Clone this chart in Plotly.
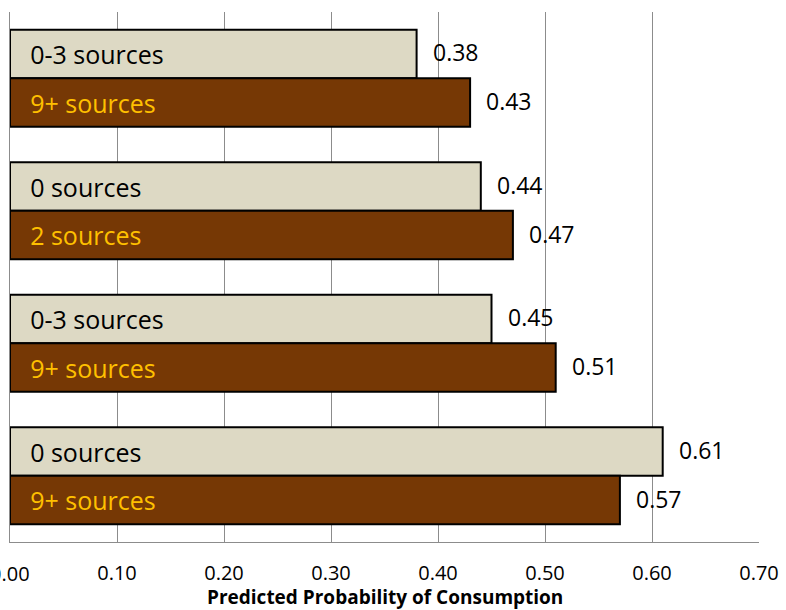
import plotly.graph_objects as go

groups = ["g1", "g2", "g3", "g4"]
light_labels = ["0-3 sources", "0 sources", "0-3 sources", "0 sources"]
light_values = [0.38, 0.44, 0.45, 0.61]
dark_labels = ["9+ sources", "2 sources", "9+ sources", "9+ sources"]
dark_values = [0.43, 0.47, 0.51, 0.57]
x_ticks = [0.0, 0.1, 0.2, 0.3, 0.4, 0.5, 0.6, 0.7]
x_title = "Predicted Probability of Consumption"

FONT = "Open Sans"
LIGHT = "#DDD9C4"
DARK = "#763805"

fig = go.Figure()
fig.add_trace(go.Bar(
    y=groups, x=light_values, orientation="h",
    marker=dict(color=LIGHT, line=dict(color="#000000", width=2)),
    text=light_labels, textposition="inside", insidetextanchor="start",
    textfont=dict(family=FONT, size=25, color="#000000"),
    texttemplate="  \u2009%{text}", hoverinfo="skip", showlegend=False,
))
fig.add_trace(go.Bar(
    y=groups, x=dark_values, orientation="h",
    marker=dict(color=DARK, line=dict(color="#000000", width=2)),
    text=dark_labels, textposition="inside", insidetextanchor="start",
    textfont=dict(family=FONT, size=25, color="#FFC000"),
    texttemplate="  \u2009%{text}", hoverinfo="skip", showlegend=False,
))

annotations = []
for g, v in zip(groups, light_values):
    annotations.append(dict(x=v, y=g, xref="x", yref="y", text=f"{v:.2f}",
                            showarrow=False, xanchor="left", xshift=14, yshift=26,
                            font=dict(family=FONT, size=23, color="#000000")))
for g, v in zip(groups, dark_values):
    annotations.append(dict(x=v, y=g, xref="x", yref="y", text=f"{v:.2f}",
                            showarrow=False, xanchor="left", xshift=14, yshift=-23,
                            font=dict(family=FONT, size=23, color="#000000")))
# first tick label (partly cut by the page edge in the reference)
annotations.append(dict(x=x_ticks[0], y=0, xref="x", yref="paper", text=f"{x_ticks[0]:.2f}",
                        showarrow=False, xanchor="center", yanchor="middle", yshift=-31,
                        font=dict(family=FONT, size=20, color="#000000")))
# axis title
annotations.append(dict(x=0.5, y=0, xref="paper", yref="paper", text="<b>" + x_title + "</b>",
                        showarrow=False, xanchor="center", yanchor="middle", yshift=-55,
                        font=dict(family=FONT, size=19, color="#000000")))

fig.update_layout(
    width=786, height=610,
    margin=dict(l=10, r=27, t=12, b=68),
    paper_bgcolor="white", plot_bgcolor="white",
    barmode="group", bargap=0.268, bargroupgap=0,
    uniformtext=dict(mode=False),
    annotations=annotations,
    xaxis=dict(
        range=[0, 0.70], tickvals=x_ticks, tickformat=".2f",
        showgrid=True, gridcolor="#8C8C8C", gridwidth=1,
        showline=True, linecolor="#8C8C8C", linewidth=1,
        zeroline=False, ticks="", automargin=False,
        tickfont=dict(family=FONT, size=20, color="#000000"),
        ticklabelstandoff=13,
    ),
    yaxis=dict(
        categoryorder="array", categoryarray=groups, autorange="reversed",
        showticklabels=False, showgrid=False, ticks="",
        showline=True, linecolor="#8C8C8C", linewidth=1, automargin=False,
    ),
)

fig.write_html("out.html")
